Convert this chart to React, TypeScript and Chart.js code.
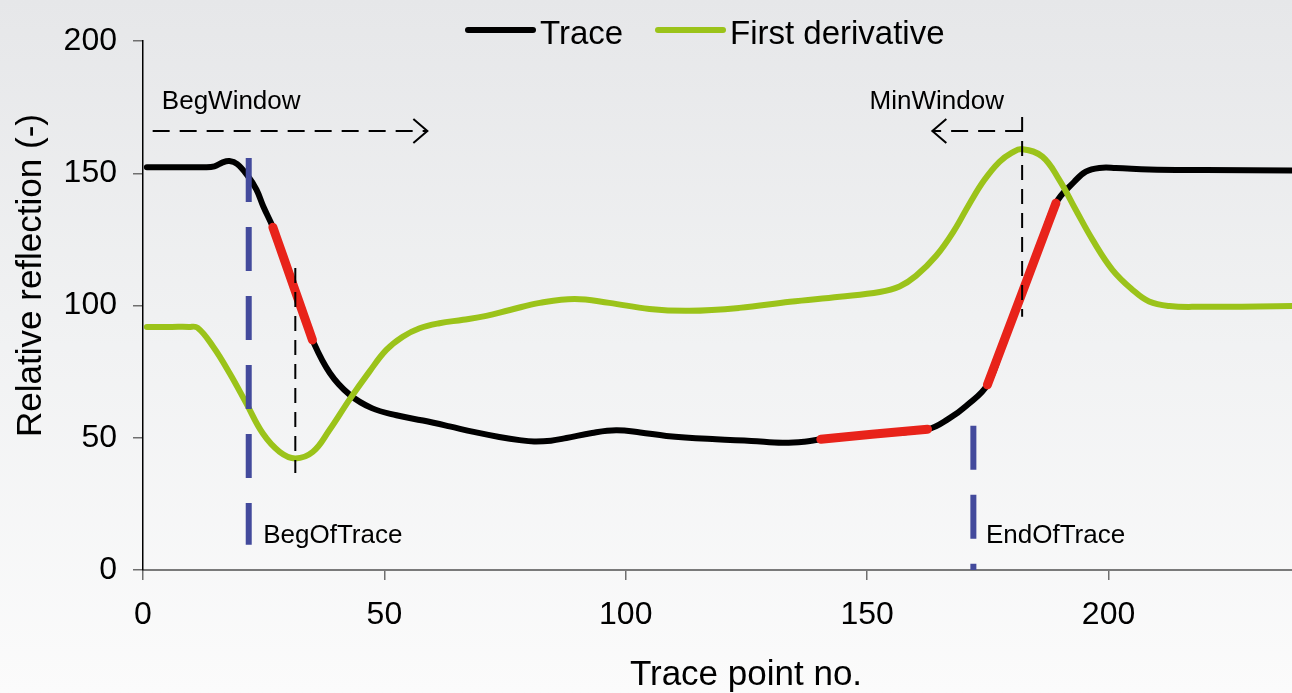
import React, { useEffect, useRef } from 'react';
import { Chart, registerables } from 'chart.js';

Chart.register(...registerables);

// ---------- data ----------
const TRACE_X = [0.8, 8, 12.5, 14.8, 16.5, 17.9, 19.5, 21.7, 23.5, 24.9, 26.9, 29, 31.5, 33.3, 35.1, 38.7, 42.8, 47.4, 52.5, 58, 63.5, 68.5, 73.8, 78, 81, 84.5, 87.7, 93, 98, 103, 108.4, 118.7, 126, 132.5, 137, 140.4, 151, 162.5, 167, 170.5, 174.9, 178.5, 182.1, 185.6, 189.1, 192.9, 195.3, 198.1, 201.5, 208.4, 220, 238];
const TRACE_Y = [152.3, 152.3, 152.3, 152.6, 154.1, 154.6, 153.5, 149, 143.8, 137.5, 129.6, 118.7, 105.7, 96.3, 87, 74.5, 66.3, 61.2, 58.5, 56.5, 54.3, 52.2, 50.3, 49.1, 48.6, 48.9, 49.9, 51.8, 52.8, 52, 50.7, 49.4, 48.8, 48.1, 48.5, 49.4, 51.3, 53.2, 57.3, 62, 70, 87.4, 104.8, 121.8, 138.7, 146.8, 150.6, 152, 152, 151.4, 151.2, 151];

const DERIV_X = [0.8, 6, 9.5, 11.3, 14.5, 17.95, 21.4, 24.8, 28.3, 31.55, 35.2, 38.65, 42.8, 46.9, 50.4, 53.8, 57.3, 61.4, 66.3, 71.1, 76, 82.2, 89.4, 96.6, 104.9, 113.2, 123.5, 134, 144.3, 152.6, 156.7, 160.1, 164.3, 168, 171.2, 174.3, 177.4, 180, 182.2, 186.3, 189.8, 193.2, 196.7, 200.8, 205, 208.4, 212.6, 218.8, 238];
const DERIV_Y = [91.9, 91.9, 91.9, 91.6, 84.5, 74.4, 63, 51.7, 44.7, 42.2, 44.7, 53, 64.5, 75, 83.2, 88.2, 91.4, 93.3, 94.6, 96.1, 98.3, 101, 102.5, 101, 98.7, 98, 99.1, 101.4, 103.3, 105.1, 107.2, 111.2, 118.8, 128.3, 138.5, 147.5, 154.3, 157.8, 159.1, 156.3, 147.5, 136.2, 124.8, 113.5, 105.9, 101.5, 99.8, 99.5, 99.8];

// ranges of the trace highlighted in red (fit windows)
const RED_RANGES = [[26.9, 35.1], [140.4, 162.5], [174.9, 189.1]];

const SERIES_NAMES = ['Trace', 'First derivative'];
const X_TITLE = 'Trace point no.';
const Y_TITLE = 'Relative reflection (-)';
const X_TICKS = [0, 50, 100, 150, 200];
const Y_TICKS = [0, 50, 100, 150, 200];
const X_MIN = 0;
const X_MAX = 238;
const Y_MIN = 0;
const Y_MAX = 200;

// annotations (data coordinates)
const BEG_OF_TRACE_X = 21.9;
const BEG_OF_TRACE_Y = [155.8, 9.5];
const END_OF_TRACE_X = 172;
const END_OF_TRACE_Y = [54.5, 0];
const DERIV_MIN_X = 31.55;
const DERIV_MIN_Y = [114.2, 36.7];
const DERIV_MAX_X = 182.1;
const DERIV_MAX_Y = [171.3, 95.7];
const BEG_WINDOW_X = [2, 58.9];
const MIN_WINDOW_X = [182.1, 163.5];
const WINDOW_ARROW_Y = 166;
const LABELS = ['BegWindow', 'MinWindow', 'BegOfTrace', 'EndOfTrace'];
const LABEL_X = [3.9, 150.5, 24.9, 174.6];
const LABEL_Y = [174.2, 174.2, 10.1, 10.3];

// ---------- styles ----------
const FONT = "'Liberation Sans', Arial, Helvetica, sans-serif";
const BLACK = '#000000';
const GREEN = '#9bc31a';
const RED = '#e8231a';
const BLUE = '#434a9c';
const TENSION = 0.4;

const pts = (xs: number[], ys: number[]) => xs.map((x, i) => ({ x, y: ys[i] }));

const overlayPlugin = {
  id: 'overlay',
  afterDatasetsDraw(chart: any) {
    const { ctx, scales } = chart;
    const xs = scales.x;
    const ys = scales.y;
    ctx.save();
    // arrowheads
    ctx.strokeStyle = BLACK;
    ctx.lineWidth = 2;
    ctx.lineCap = 'butt';
    ctx.lineJoin = 'miter';
    const head = (tx: number, ty: number, dir: number) => {
      const px = xs.getPixelForValue(tx);
      const py = ys.getPixelForValue(ty);
      ctx.beginPath();
      ctx.moveTo(px - dir * 14, py - 12);
      ctx.lineTo(px, py);
      ctx.lineTo(px - dir * 14, py + 12);
      ctx.stroke();
    };
    head(BEG_WINDOW_X[1], WINDOW_ARROW_Y, 1);
    head(MIN_WINDOW_X[1], WINDOW_ARROW_Y, -1);
    // annotation labels
    ctx.fillStyle = BLACK;
    ctx.font = `26px ${FONT}`;
    ctx.textAlign = 'left';
    ctx.textBaseline = 'alphabetic';
    LABELS.forEach((t, i) => {
      ctx.fillText(t, xs.getPixelForValue(LABEL_X[i]), ys.getPixelForValue(LABEL_Y[i]));
    });
    ctx.restore();
  },
  afterDraw(chart: any) {
    const { ctx } = chart;
    ctx.save();
    // legend
    const colors = [BLACK, GREEN];
    const lx = [468, 658];
    ctx.lineCap = 'round';
    ctx.lineWidth = 6;
    ctx.font = `33px ${FONT}`;
    ctx.fillStyle = BLACK;
    ctx.textBaseline = 'alphabetic';
    ctx.textAlign = 'left';
    SERIES_NAMES.forEach((n, i) => {
      ctx.strokeStyle = colors[i];
      ctx.beginPath();
      ctx.moveTo(lx[i], 30);
      ctx.lineTo(lx[i] + 65, 30);
      ctx.stroke();
      ctx.fillText(n, lx[i] + 72, 44);
    });
    // axis titles
    ctx.font = `35px ${FONT}`;
    ctx.textAlign = 'center';
    ctx.fillText(X_TITLE, 746, 685);
    ctx.translate(41, 275.5);
    ctx.rotate(-Math.PI / 2);
    ctx.fillText(Y_TITLE, 0, 0);
    ctx.restore();
  },
};

export default function App() {
  const ref = useRef<HTMLCanvasElement | null>(null);

  useEffect(() => {
    if (!ref.current) return;
    const lineBase = {
      pointRadius: 0,
      pointHoverRadius: 0,
      fill: false,
      borderCapStyle: 'round',
      borderJoinStyle: 'round',
    };
    const redSets = RED_RANGES.map(([a, b]) => {
      const xs: number[] = [];
      const ys: number[] = [];
      TRACE_X.forEach((x, i) => {
        if (x >= a - 1e-6 && x <= b + 1e-6) {
          xs.push(x);
          ys.push(TRACE_Y[i]);
        }
      });
      return {
        ...lineBase,
        label: 'fit',
        data: pts(xs, ys),
        borderColor: RED,
        borderWidth: 9,
        tension: TENSION,
        order: 3,
      };
    });
    const dashed = (x: number, yr: number[], color: string, width: number, dash: number[]) => ({
      ...lineBase,
      label: 'mark',
      data: [{ x, y: yr[0] }, { x, y: yr[1] }],
      borderColor: color,
      borderWidth: width,
      borderDash: dash,
      borderCapStyle: 'butt',
      tension: 0,
      order: 1,
    });
    const hArrow = (xr: number[]) => ({
      ...lineBase,
      label: 'arrow',
      data: [{ x: xr[0], y: WINDOW_ARROW_Y }, { x: xr[1], y: WINDOW_ARROW_Y }],
      borderColor: BLACK,
      borderWidth: 2,
      borderDash: [17, 10],
      borderCapStyle: 'butt',
      tension: 0,
      order: 1,
    });

    const chart = new Chart(ref.current, {
      type: 'line',
      data: {
        datasets: [
          {
            ...lineBase,
            label: SERIES_NAMES[0],
            data: pts(TRACE_X, TRACE_Y),
            borderColor: BLACK,
            borderWidth: 6,
            tension: TENSION,
            order: 5,
          },
          {
            ...lineBase,
            label: SERIES_NAMES[1],
            data: pts(DERIV_X, DERIV_Y),
            borderColor: GREEN,
            borderWidth: 6,
            tension: TENSION,
            order: 4,
          },
          ...redSets,
          { ...dashed(BEG_OF_TRACE_X, BEG_OF_TRACE_Y, BLUE, 6, [44, 25]), order: 2 },
          { ...dashed(END_OF_TRACE_X, END_OF_TRACE_Y, BLUE, 6, [44, 25]), order: 2 },
          dashed(DERIV_MIN_X, DERIV_MIN_Y, BLACK, 2, [15, 9]),
          dashed(DERIV_MAX_X, DERIV_MAX_Y, BLACK, 2, [15, 9]),
          hArrow(BEG_WINDOW_X),
          hArrow(MIN_WINDOW_X),
        ] as any,
      },
      options: {
        animation: false,
        responsive: false,
        events: [],
        layout: { padding: { top: 41, left: 0, right: 0, bottom: 0 } },
        plugins: {
          legend: { display: false },
          tooltip: { enabled: false },
        },
        scales: {
          x: {
            type: 'linear',
            min: X_MIN,
            max: X_MAX,
            afterBuildTicks: (s: any) => {
              s.ticks = X_TICKS.map((v) => ({ value: v }));
            },
            afterFit: (s: any) => {
              s.height = 123;
            },
            ticks: {
              font: { family: FONT, size: 32 },
              color: BLACK,
              padding: 16,
              maxRotation: 0,
              autoSkip: false,
              includeBounds: false,
            },
            grid: {
              drawOnChartArea: false,
              drawTicks: true,
              tickLength: 10,
              color: '#6f6f6f',
              lineWidth: 1.5,
            },
            border: { display: true, color: '#7a7a7a', width: 2 },
          },
          y: {
            type: 'linear',
            min: Y_MIN,
            max: Y_MAX,
            afterBuildTicks: (s: any) => {
              s.ticks = Y_TICKS.map((v) => ({ value: v }));
            },
            afterFit: (s: any) => {
              s.width = 143;
            },
            ticks: {
              font: { family: FONT, size: 32 },
              color: BLACK,
              padding: 16,
              autoSkip: false,
              includeBounds: false,
            },
            grid: {
              drawOnChartArea: false,
              drawTicks: true,
              tickLength: 10,
              color: '#6f6f6f',
              lineWidth: 1.5,
            },
            border: { display: true, color: '#000000', width: 1.5 },
          },
        },
      } as any,
      plugins: [overlayPlugin],
    });
    return () => chart.destroy();
  }, []);

  return (
    <div
      style={{
        position: 'fixed',
        left: 0,
        top: 0,
        width: 1292,
        height: 693,
        background: 'linear-gradient(to bottom, #e6e7e9 0%, #f1f2f3 50%, #fbfbfb 100%)',
      }}
    >
      <canvas ref={ref} width={1292} height={693} style={{ width: 1292, height: 693, display: 'block' }} />
    </div>
  );
}
